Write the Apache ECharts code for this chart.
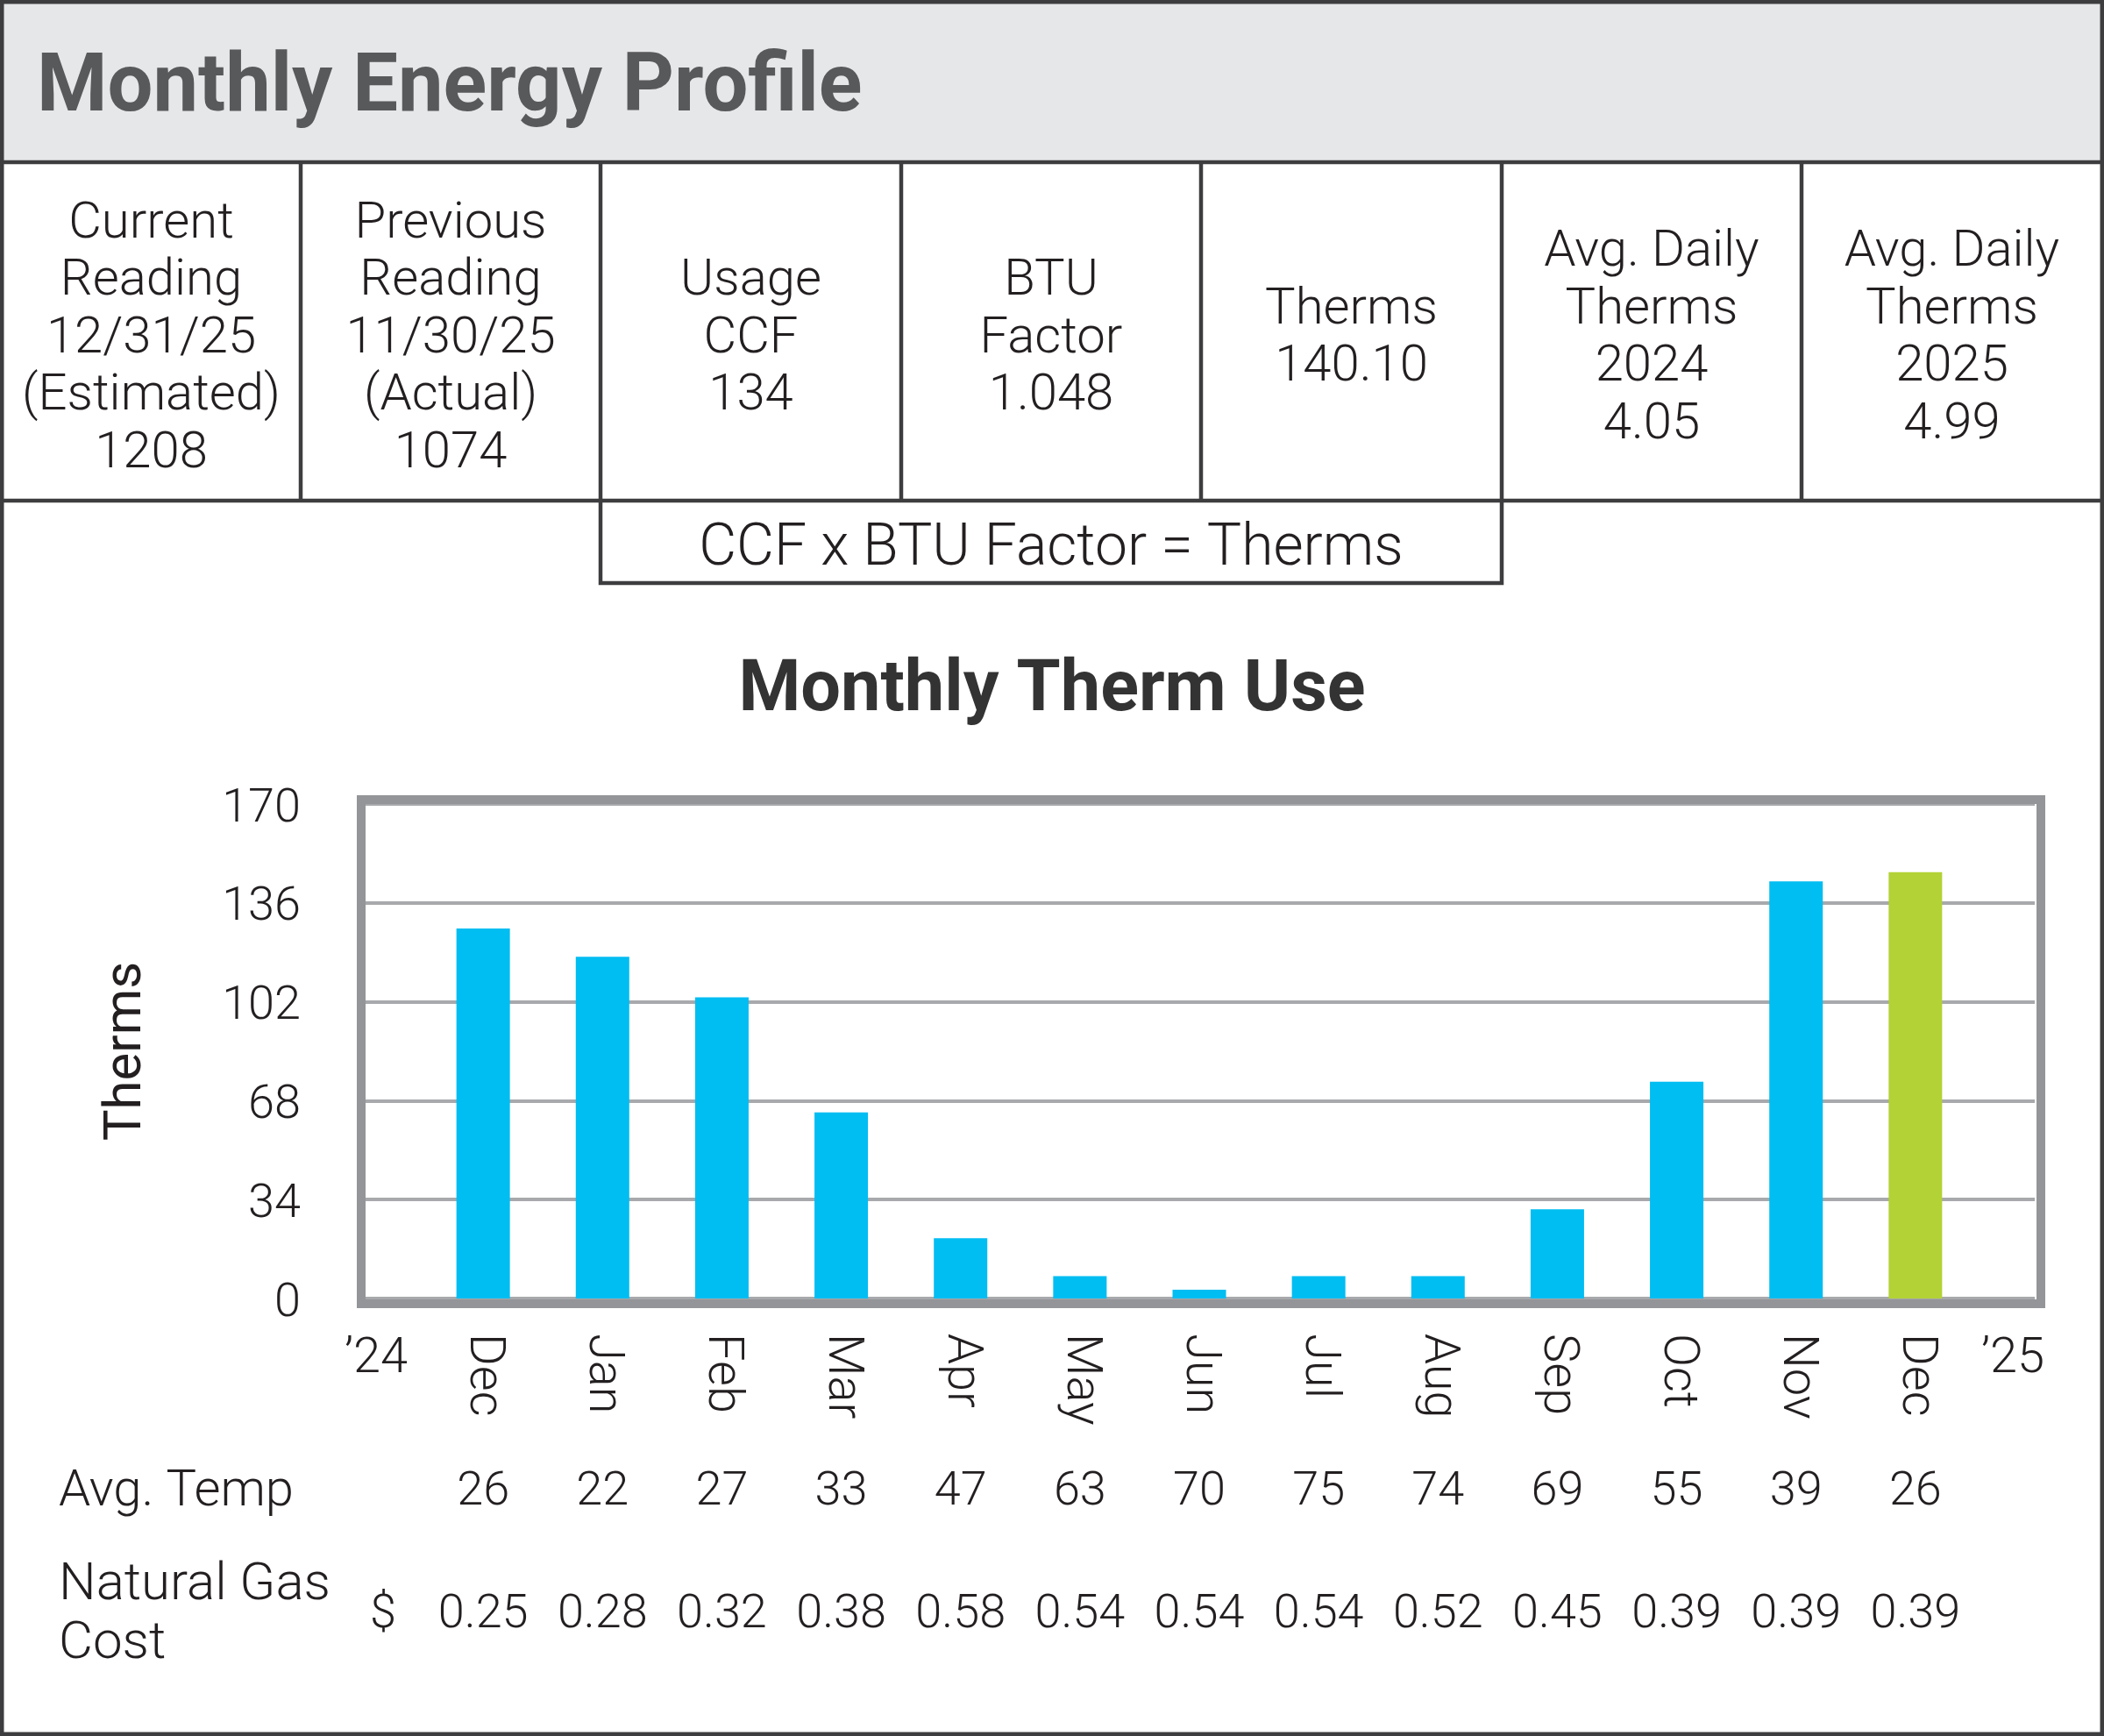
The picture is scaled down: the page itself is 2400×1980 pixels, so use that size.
<!DOCTYPE html>
<html><head><meta charset="utf-8">
<script src="https://cdn.jsdelivr.net/npm/echarts@6/dist/echarts.min.js"></script>
<style>html,body{margin:0;padding:0;background:#fff}#c{width:2400px;height:1980px}</style>
</head><body><div id="c"></div>
<script>
// ---- data ----
const headerTitle = 'Monthly Energy Profile';
const cellLabels = [
  ['Current', 'Reading', '12/31/25', '(Estimated)'],
  ['Previous', 'Reading', '11/30/25', '(Actual)'],
  ['Usage', 'CCF'],
  ['BTU', 'Factor'],
  ['Therms'],
  ['Avg. Daily', 'Therms', '2024'],
  ['Avg. Daily', 'Therms', '2025']
];
const cellValues = ['1208', '1074', '134', '1.048', '140.10', '4.05', '4.99'];
const formulaText = 'CCF x BTU Factor = Therms';
const chartTitle = 'Monthly Therm Use';
const yAxisName = 'Therms';
const months = ['Dec', 'Jan', 'Feb', 'Mar', 'Apr', 'May', 'Jun', 'Jul', 'Aug', 'Sep', 'Oct', 'Nov', 'Dec'];
const therms = [127.2, 117.5, 103.5, 64.0, 20.7, 7.7, 3.0, 7.7, 7.7, 30.7, 74.5, 143.4, 146.6];
const avgTemp = [26, 22, 27, 33, 47, 63, 70, 75, 74, 69, 55, 39, 26];
const gasCost = ['0.25', '0.28', '0.32', '0.38', '0.58', '0.54', '0.54', '0.54', '0.52', '0.45', '0.39', '0.39', '0.39'];
const yMin = 0, yMax = 170, yStep = 34;
const startLabel = '\u201924', endLabel = '\u201925';
const tempLabel = 'Avg. Temp';
const costLabel = 'Natural Gas\nCost';
const currencySymbol = '$';

// ---- styling ----
const FONT = "Roboto, 'Noto Sans', sans-serif";
const INK = '#231f20';
const LINE = '#3d3d3f';
const BAR = '#00bdf2';
const BAR_CUR = '#b3d235';
const FRAME = '#939598';
const GRIDC = '#a7a9ac';

const colX = [2, 343, 685, 1028, 1370, 1713, 2055, 2398];
const headerBottom = 185, rowBottom = 571, boxBottom = 665;

const graphics = [];
graphics.push({ type: 'rect', z: 1, shape: { x: 0, y: 0, width: 2400, height: headerBottom }, style: { fill: '#e6e7e8' } });
graphics.push({ type: 'text', z: 5, x: 42, y: 103, style: { text: headerTitle, font: 'bold 92px ' + FONT, fill: '#58595b', align: 'left', verticalAlign: 'middle' } });
// table lines
graphics.push({ type: 'line', z: 5, shape: { x1: 0, y1: headerBottom, x2: 2400, y2: headerBottom }, style: { stroke: LINE, lineWidth: 4.5 } });
graphics.push({ type: 'line', z: 5, shape: { x1: 0, y1: rowBottom, x2: 2400, y2: rowBottom }, style: { stroke: LINE, lineWidth: 4.5 } });
for (let i = 1; i < colX.length - 1; i++) {
  graphics.push({ type: 'line', z: 5, shape: { x1: colX[i], y1: headerBottom, x2: colX[i], y2: rowBottom }, style: { stroke: LINE, lineWidth: 4.5 } });
}
graphics.push({ type: 'polyline', z: 5, shape: { points: [[colX[2], rowBottom], [colX[2], boxBottom], [colX[5], boxBottom], [colX[5], rowBottom]] }, style: { stroke: LINE, lineWidth: 4.5, fill: null } });
graphics.push({ type: 'rect', z: 6, shape: { x: 2.25, y: 2.25, width: 2395.5, height: 1975.5 }, style: { stroke: LINE, lineWidth: 4.5, fill: null } });
// cell texts
cellLabels.forEach((lines, i) => {
  const cx = (colX[i] + colX[i + 1]) / 2;
  graphics.push({ type: 'text', z: 5, x: cx, y: 387, style: { text: lines.concat([cellValues[i]]).join('\n'), font: '300 58px ' + FONT, lineHeight: 65.5, fill: INK, align: 'center', verticalAlign: 'middle' } });
});
graphics.push({ type: 'text', z: 5, x: (colX[2] + colX[5]) / 2, y: 627, style: { text: formulaText, font: '300 66px ' + FONT, fill: INK, align: 'center', verticalAlign: 'middle' } });
graphics.push({ type: 'text', z: 5, x: 1200, y: 790, style: { text: chartTitle, font: 'bold 81px ' + FONT, fill: '#333333', align: 'center', verticalAlign: 'middle' } });
// plot frame
graphics.push({ type: 'rect', z: 10, shape: { x: 412, y: 912, width: 1916, height: 575 }, style: { stroke: FRAME, lineWidth: 10, fill: null } });

const cats = [''].concat(months, ['']);
const edgeCats = cats.map(() => '');
edgeCats[0] = { value: startLabel, textStyle: { padding: [0, 0, 0, 28], verticalAlign: 'top' } };
edgeCats[edgeCats.length - 1] = { value: endLabel, textStyle: { padding: [0, 50, 0, 0], verticalAlign: 'top' } };
const tempCats = [''].concat(avgTemp.map(String), ['']);
const costCats = [{ value: currencySymbol, textStyle: { padding: [10, 0, 0, 44], verticalAlign: 'middle' } }].concat(gasCost, ['']);
const barData = [null].concat(therms.map((v, i) => i === therms.length - 1 ? { value: v, itemStyle: { color: BAR_CUR } } : v), [null]);

const baseLabel = { fontFamily: FONT, fontWeight: 300, color: INK };
const hiddenAxis = { axisLine: { show: false }, axisTick: { show: false }, splitLine: { show: false } };

const option = {
  animation: false,
  backgroundColor: '#ffffff',
  grid: { left: 415, top: 917, width: 1906, height: 564, containLabel: false },
  xAxis: [
    Object.assign({ type: 'category', data: cats, boundaryGap: false, position: 'bottom',
      axisLabel: Object.assign({}, baseLabel, { interval: 0, rotate: -90, fontSize: 56, margin: 40 }) }, hiddenAxis),
    Object.assign({ type: 'category', data: edgeCats, boundaryGap: false, position: 'bottom',
      axisLabel: Object.assign({}, baseLabel, { interval: 0, fontSize: 56, margin: 42, verticalAlign: 'top' }) }, hiddenAxis),
    Object.assign({ type: 'category', data: tempCats, boundaryGap: false, position: 'bottom', offset: 221,
      name: tempLabel, nameLocation: 'start', nameGap: 348,
      nameTextStyle: Object.assign({}, baseLabel, { fontSize: 58, align: 'left', verticalAlign: 'middle' }),
      axisLabel: Object.assign({}, baseLabel, { interval: 0, fontSize: 54, margin: 0, verticalAlign: 'middle' }) }, hiddenAxis),
    Object.assign({ type: 'category', data: costCats, boundaryGap: false, position: 'bottom', offset: 361,
      name: costLabel, nameLocation: 'start', nameGap: 348,
      nameTextStyle: Object.assign({}, baseLabel, { fontSize: 60, align: 'left', verticalAlign: 'middle', lineHeight: 67 }),
      axisLabel: Object.assign({}, baseLabel, { interval: 0, fontSize: 54, margin: 0, verticalAlign: 'middle' }) }, hiddenAxis)
  ],
  yAxis: {
    type: 'value', min: yMin, max: yMax, interval: yStep,
    name: yAxisName, nameLocation: 'middle', nameGap: 240, nameRotate: 90,
    nameTextStyle: { fontFamily: FONT, fontWeight: 400, fontSize: 60, color: INK },
    axisLine: { show: false }, axisTick: { show: false },
    axisLabel: Object.assign({}, baseLabel, { fontSize: 54, margin: 72, verticalAlign: 'middle',
      formatter: '{v|{value}}', rich: { v: { fontFamily: FONT, fontWeight: 300, fontSize: 54, color: INK, padding: [12, 0, 0, 0] } } }),
    splitLine: { show: true, lineStyle: { color: GRIDC, width: 4 } }
  },
  series: [{
    type: 'bar', xAxisIndex: 0, data: barData, barWidth: 61,
    itemStyle: { color: BAR }, silent: true
  }],
  graphic: graphics
};

const chart = echarts.init(document.getElementById('c'), null, { renderer: 'canvas' });
chart.setOption(option);
</script>
</body></html>
